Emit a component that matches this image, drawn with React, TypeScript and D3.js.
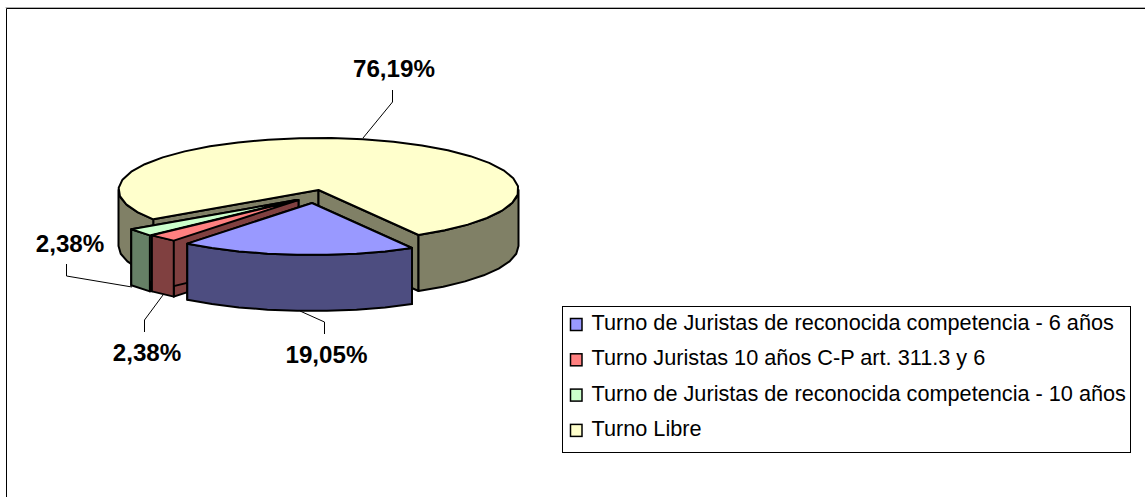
import React from "react";
import * as d3 from "d3";

const categories = [
  "Turno de Juristas de reconocida competencia - 6 años",
  "Turno Juristas 10 años C-P art. 311.3 y 6",
  "Turno de Juristas de reconocida competencia - 10 años",
  "Turno Libre",
];
const values = [19.05, 2.38, 2.38, 76.19];
const labels = ["19,05%", "2,38%", "2,38%", "76,19%"];
const topColors = ["#9999FF", "#FF8080", "#CCFFCC", "#FFFFCC"];
const wallColors = ["#4D4D80", "#804040", "#668066", "#808066"];
const explode = [
  [-6.5, 13],
  [-20, 10],
  [-22, 10],
  [0, 0],
];
const labelPos = [
  [326.5, 363],
  [147, 361],
  [70, 252],
  [394, 77],
];
const leaders = [
  [[300, 311], [324.5, 322], [324.5, 334]],
  [[163, 295], [144.5, 320], [144.5, 332]],
  [[132, 287], [66.5, 276], [66.5, 264]],
  [[363, 138], [392.5, 102], [392.5, 90]],
];

const W = 1145, H = 497;
const CX = 318.5, CY = 190, RX = 200, RY = 52, DEPTH = 56;
const startAngle = (150 * Math.PI) / 180;

const pie = d3.pie<number>().sort(null).startAngle(startAngle).endAngle(startAngle + 2 * Math.PI);
const arcs = pie(values);

const px = (a: number, ox: number) => CX + ox + RX * Math.sin(a);
const py = (a: number, oy: number) => CY + oy - RY * Math.cos(a);
const line = d3.line<number[]>().x((d) => d[0]).y((d) => d[1]);

function rim(a0: number, a1: number, ox: number, oy: number) {
  const n = Math.max(1, Math.round(Math.abs(a1 - a0) / ((9 * Math.PI) / 180)));
  return d3.range(n + 1).map((i) => {
    const a = a0 + ((a1 - a0) * i) / n;
    return [px(a, ox), py(a, oy)];
  });
}

function Slice({ i }: { i: number }) {
  const { startAngle: a0, endAngle: a1 } = arcs[i];
  const [ox, oy] = explode[i];
  const c = [CX + ox, CY + oy];
  const top = rim(a0, a1, ox, oy);
  const down = (p: number[]) => [p[0], p[1] + DEPTH];
  const A = top[0], B = top[top.length - 1];
  const radial = [
    [c, A, down(A), down(c)],
    [c, B, down(B), down(c)],
  ];
  const qs = Math.PI / 2, qe = (3 * Math.PI) / 2;
  const spans: number[][] = [];
  [0, 2 * Math.PI].forEach((k) => {
    const s = Math.max(a0, qs + k), e = Math.min(a1, qe + k);
    if (e > s) spans.push([s, e]);
  });
  const common = { stroke: "#000", strokeWidth: 2, strokeLinejoin: "round" as const };
  return (
    <g>
      {radial.map((q, k) => (
        <path key={k} d={line(q)! + "Z"} fill={wallColors[i]} {...common} />
      ))}
      {spans.map(([s, e], k) => {
        const t = rim(s, e, ox, oy);
        return <path key={k} d={line([...t, ...t.map(down).reverse()])! + "Z"} fill={wallColors[i]} {...common} />;
      })}
      <path d={line([c, ...top])! + "Z"} fill={topColors[i]} {...common} />
    </g>
  );
}

export default function App() {
  const font = "'Liberation Sans', Arial, sans-serif";
  return (
    <svg
      width={W}
      height={H}
      viewBox={`0 0 ${W} ${H}`}
      style={{ position: "absolute", left: 0, top: 0, background: "#fff", fontFamily: font }}
    >
      <path d={`M${W},7.5H5.5`} stroke="#b0b0b0" fill="none" />
      <path d={`M6.5,${H}V8.5H${W}`} stroke="#000" fill="none" />
      {[3, 2, 1, 0].map((i) => (
        <Slice key={i} i={i} />
      ))}
      {leaders.map((l, i) => (
        <path key={i} d={line(l)!} fill="none" stroke="#000" strokeWidth={1} />
      ))}
      {labels.map((t, i) => (
        <text key={i} x={labelPos[i][0]} y={labelPos[i][1]} textAnchor="middle" fontWeight="bold" fontSize={24.2}>
          {t}
        </text>
      ))}
      <rect x={562.5} y={306.5} width={568} height={146} fill="#fff" stroke="#000" />
      {categories.map((t, i) => {
        const y = 330 + i * 35.3;
        return (
          <g key={i}>
            <rect x={570.5} y={y - 11.5} width={11.5} height={12} fill={topColors[i]} stroke="#000" strokeWidth={1.5} />
            <text x={591.5} y={y} fontSize={21.7}>
              {t}
            </text>
          </g>
        );
      })}
    </svg>
  );
}
